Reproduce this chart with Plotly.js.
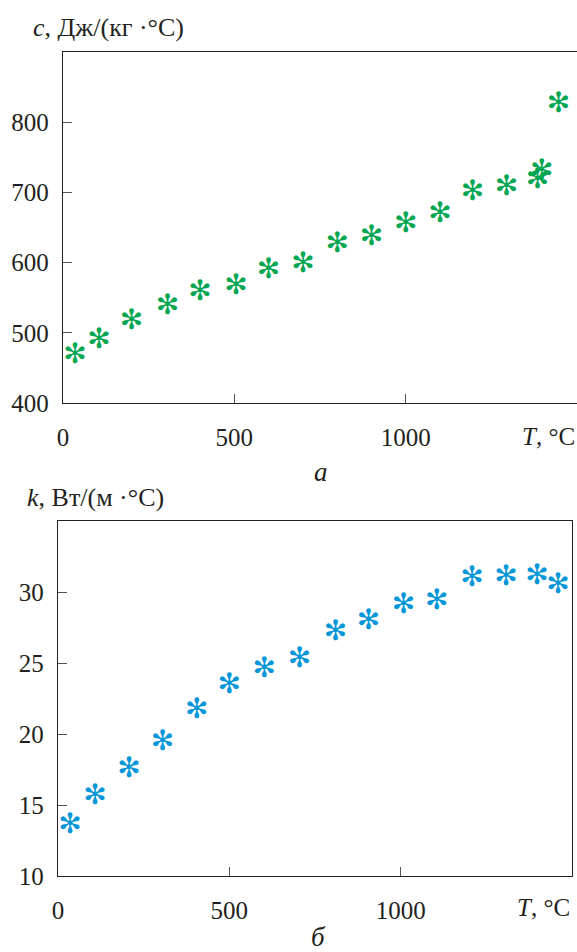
<!DOCTYPE html>
<html><head><meta charset="utf-8">
<script src="https://cdn.plot.ly/plotly-3.0.1.min.js"></script>
<style>html,body{margin:0;padding:0;background:#fff}
.textpoint text{transform:translateY(3px)}</style>
</head><body><div id="chart" style="width:577px;height:952px"></div>
<script>
// Panel a: specific heat c, J/(kg·°C)
const tempC = [35, 105, 200, 305, 400, 505, 600, 700, 800, 900, 1000, 1100, 1195, 1294, 1385, 1397, 1446];
const heatC = [471, 493, 520, 541, 561, 569, 593, 601, 629, 639, 658, 672, 703, 710, 720, 733, 829];
// Panel b: thermal conductivity k, W/(m·°C)
const tempK = [35, 108, 207, 305, 405, 500, 602, 705, 810, 906, 1008, 1105, 1208, 1307, 1398, 1459];
const condK = [13.7, 15.8, 17.7, 19.6, 21.8, 23.6, 24.7, 25.4, 27.3, 28.1, 29.2, 29.5, 31.1, 31.2, 31.3, 30.6];
const xTicks = [0, 500, 1000];
const cTicks = [400, 500, 600, 700, 800];
const kTicks = [10, 15, 20, 25, 30];
const GLYPH = '✻';

const W = 577, H = 952;
const px = v => v / W, py = v => 1 - v / H;
const FONT = '"Liberation Serif", "Times New Roman", serif';

const traces = [
  {x: tempC, y: heatC, xaxis: 'x', yaxis: 'y', mode: 'text', text: tempC.map(() => GLYPH),
   textposition: 'middle center', textfont: {family: 'DejaVu Sans', size: 28, weight: 'bold', color: '#00a651'},
   hoverinfo: 'x+y', showlegend: false},
  {x: tempK, y: condK, xaxis: 'x2', yaxis: 'y2', mode: 'text', text: tempK.map(() => GLYPH),
   textposition: 'middle center', textfont: {family: 'DejaVu Sans', size: 28, weight: 'bold', color: '#0096d8'},
   hoverinfo: 'x+y', showlegend: false}
];

const axBase = {showline: true, mirror: true, linecolor: '#231f20', linewidth: 1.3,
  ticks: 'inside', ticklen: 9, tickcolor: '#555', tickwidth: 1, showgrid: false, zeroline: false,
  tickfont: {family: FONT, size: 25, color: '#231f20'}, fixedrange: true};

const layout = {
  width: W, height: H, margin: {l: 0, r: 0, t: 0, b: 0},
  paper_bgcolor: '#fff', plot_bgcolor: '#fff',
  font: {family: FONT, color: '#231f20'},
  xaxis: Object.assign({}, axBase, {domain: [px(63), 1], range: [0, 1500], anchor: 'y', tickvals: xTicks, ticklabelstandoff: 12}),
  yaxis: Object.assign({}, axBase, {domain: [py(403), py(52)], range: [400, 900], anchor: 'x', tickvals: cTicks, ticklabelstandoff: 8}),
  xaxis2: Object.assign({}, axBase, {domain: [px(58), px(572)], range: [0, 1500], anchor: 'y2', tickvals: xTicks, ticklabelstandoff: 12}),
  yaxis2: Object.assign({}, axBase, {domain: [py(876), py(521)], range: [10, 35], anchor: 'x2', tickvals: kTicks, ticklabelstandoff: 8}),
  annotations: [
    {text: '<i>c</i>, Дж/(кг ·°C)', xref: 'paper', yref: 'paper', x: px(31), y: py(27), xanchor: 'left', yanchor: 'middle', showarrow: false, font: {family: FONT, size: 26}},
    {text: '<i>T</i>, °C', xref: 'paper', yref: 'paper', x: px(548), y: py(437), xanchor: 'center', yanchor: 'middle', showarrow: false, font: {family: FONT, size: 25}},
    {text: '<i>а</i>', xref: 'paper', yref: 'paper', x: px(321), y: py(472), xanchor: 'center', yanchor: 'middle', showarrow: false, font: {family: FONT, size: 27}},
    {text: '<i>k</i>, Вт/(м ·°C)', xref: 'paper', yref: 'paper', x: px(25), y: py(497), xanchor: 'left', yanchor: 'middle', showarrow: false, font: {family: FONT, size: 26}},
    {text: '<i>T</i>, °C', xref: 'paper', yref: 'paper', x: px(543), y: py(907), xanchor: 'center', yanchor: 'middle', showarrow: false, font: {family: FONT, size: 25}},
    {text: '<i>б</i>', xref: 'paper', yref: 'paper', x: px(318), y: py(937), xanchor: 'center', yanchor: 'middle', showarrow: false, font: {family: FONT, size: 27}}
  ]
};
Plotly.newPlot('chart', traces, layout, {displayModeBar: false, staticPlot: true});
</script></body></html>
